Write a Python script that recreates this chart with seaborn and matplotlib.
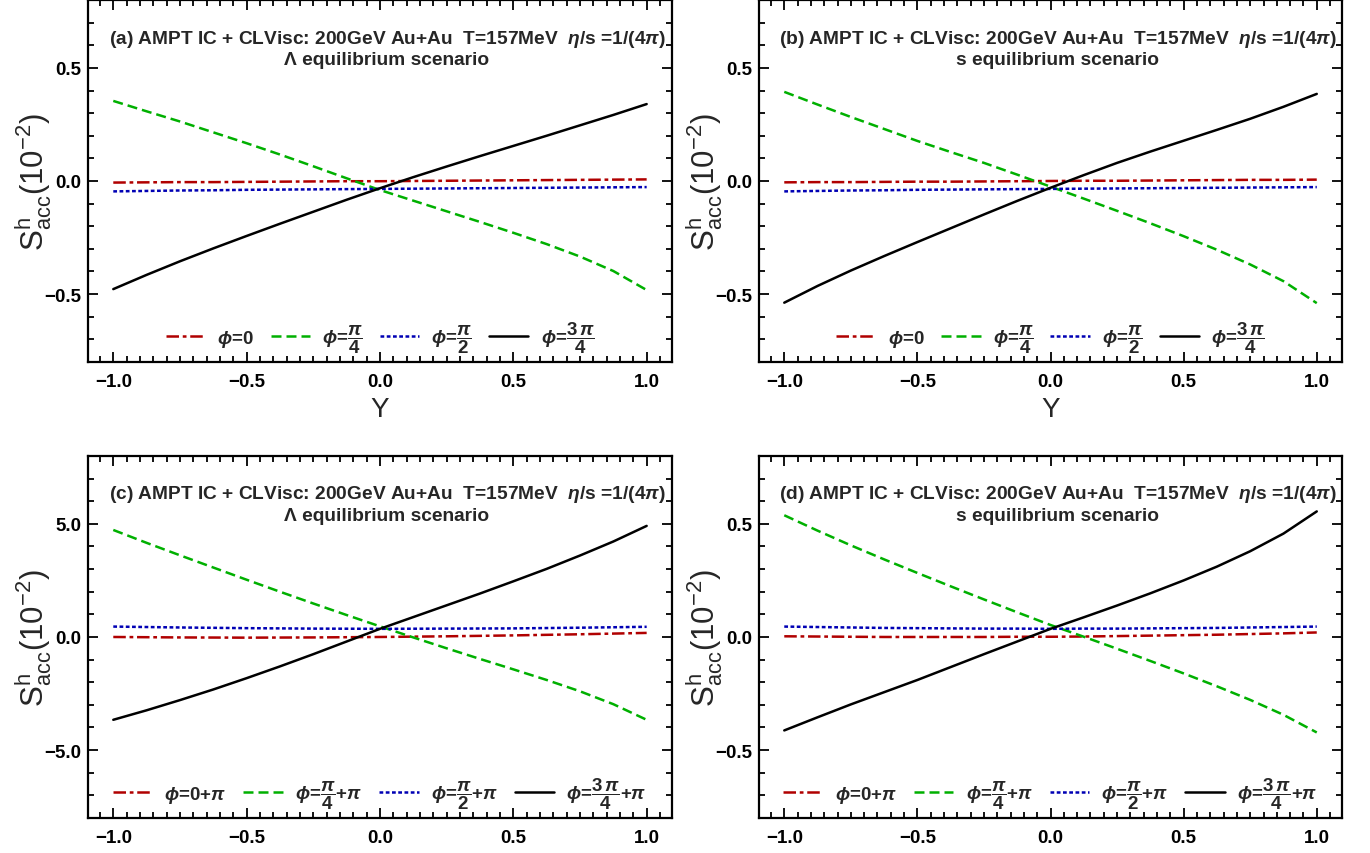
import numpy as np
import pandas as pd
import matplotlib
matplotlib.use("Agg")
import matplotlib.pyplot as plt
from matplotlib.ticker import MultipleLocator, FuncFormatter
import seaborn as sns

# Rapidity grid
rapidity = [-1.0, -0.875, -0.75, -0.625, -0.5, -0.375, -0.25, -0.125, 0.0,
            0.125, 0.25, 0.375, 0.5, 0.625, 0.75, 0.875, 1.0]

# (a) Lambda equilibrium, phi = 0, pi/4, pi/2, 3pi/4
a_phi0 = [-0.007, -0.006, -0.005, -0.005, -0.004, -0.003, -0.002, -0.001, -0.001,
          0.000, 0.001, 0.002, 0.003, 0.004, 0.005, 0.006, 0.007]
a_phi1 = [0.354, 0.308, 0.263, 0.215, 0.167, 0.117, 0.065, 0.012, -0.040,
          -0.087, -0.134, -0.181, -0.229, -0.279, -0.334, -0.398, -0.482]
a_phi2 = [-0.046, -0.044, -0.042, -0.041, -0.039, -0.038, -0.037, -0.036, -0.035,
          -0.034, -0.033, -0.032, -0.031, -0.030, -0.029, -0.028, -0.027]
a_phi3 = [-0.478, -0.415, -0.355, -0.298, -0.243, -0.189, -0.136, -0.083, -0.032,
          0.017, 0.064, 0.110, 0.155, 0.200, 0.246, 0.292, 0.340]

# (b) s equilibrium, phi = 0, pi/4, pi/2, 3pi/4
b_phi0 = [-0.006, -0.005, -0.005, -0.004, -0.003, -0.003, -0.002, -0.001, 0.000,
          0.001, 0.001, 0.002, 0.003, 0.004, 0.005, 0.005, 0.006]
b_phi1 = [0.394, 0.338, 0.283, 0.230, 0.177, 0.128, 0.080, 0.028, -0.025,
          -0.078, -0.132, -0.187, -0.244, -0.304, -0.369, -0.443, -0.540]
b_phi2 = [-0.046, -0.044, -0.042, -0.041, -0.039, -0.038, -0.037, -0.036, -0.035,
          -0.034, -0.033, -0.032, -0.031, -0.030, -0.029, -0.028, -0.027]
b_phi3 = [-0.538, -0.464, -0.396, -0.332, -0.270, -0.209, -0.148, -0.088, -0.030,
          0.026, 0.080, 0.130, 0.178, 0.226, 0.275, 0.328, 0.385]

# (c) Lambda equilibrium, phi + pi
c_phi0 = [0.000, -0.010, -0.020, -0.025, -0.030, -0.025, -0.020, -0.010, 0.000,
          0.015, 0.030, 0.050, 0.070, 0.095, 0.120, 0.150, 0.180]
c_phi1 = [4.73, 4.16, 3.61, 3.07, 2.53, 2.00, 1.48, 0.97, 0.47,
          -0.02, -0.50, -0.97, -1.43, -1.90, -2.40, -2.97, -3.66]
c_phi2 = [0.460, 0.440, 0.420, 0.405, 0.390, 0.380, 0.370, 0.365, 0.360,
          0.365, 0.370, 0.375, 0.380, 0.395, 0.410, 0.430, 0.450]
c_phi3 = [-3.66, -3.24, -2.79, -2.32, -1.82, -1.30, -0.76, -0.20, 0.36,
          0.88, 1.40, 1.92, 2.46, 3.01, 3.60, 4.22, 4.91]

# (d) s equilibrium, phi + pi
d_phi0 = [0.003, 0.002, 0.001, 0.000, 0.000, 0.000, 0.000, 0.001, 0.001,
          0.002, 0.004, 0.006, 0.008, 0.010, 0.013, 0.016, 0.020]
d_phi1 = [0.538, 0.470, 0.405, 0.343, 0.283, 0.224, 0.166, 0.109, 0.053,
          0.001, -0.052, -0.106, -0.161, -0.218, -0.278, -0.344, -0.422]
d_phi2 = [0.046, 0.044, 0.042, 0.040, 0.039, 0.038, 0.037, 0.037, 0.036,
          0.037, 0.037, 0.038, 0.039, 0.040, 0.042, 0.044, 0.046]
d_phi3 = [-0.413, -0.355, -0.298, -0.244, -0.190, -0.133, -0.076, -0.020, 0.036,
          0.087, 0.139, 0.193, 0.250, 0.311, 0.379, 0.457, 0.555]

labels_top = [r"$\phi$=0", r"$\phi$=$\dfrac{\pi}{4}$", r"$\phi$=$\dfrac{\pi}{2}$",
              r"$\phi$=$\dfrac{3\,\pi}{4}$"]
labels_bot = [r"$\phi$=0+$\pi$", r"$\phi$=$\dfrac{\pi}{4}$+$\pi$",
              r"$\phi$=$\dfrac{\pi}{2}$+$\pi$", r"$\phi$=$\dfrac{3\,\pi}{4}$+$\pi$"]

title_line = r"AMPT IC + CLVisc: 200GeV Au+Au  T=157MeV  $\eta$/s =1/(4$\pi$)"

sns.set_style("ticks")
plt.rcParams["font.family"] = ["Liberation Sans", "DejaVu Sans"]
plt.rcParams["mathtext.fontset"] = "custom"
plt.rcParams["mathtext.rm"] = "Liberation Sans:bold"
plt.rcParams["mathtext.it"] = "Liberation Sans:italic:bold"
plt.rcParams["mathtext.bf"] = "Liberation Sans:bold"
plt.rcParams["mathtext.sf"] = "Liberation Sans"
plt.rcParams["axes.unicode_minus"] = True

colors = ["#b00000", "#00b000", "#0000b4", "#000000"]
styles = [(0, (5, 1.5, 1.5, 1.5)), (0, (4, 2)), (0, (1.5, 1)), "-"]

fig = plt.figure(figsize=(13.7, 8.54), dpi=100)

panels = [
    ("(a)", "\u039b equilibrium scenario", [a_phi0, a_phi1, a_phi2, a_phi3], labels_top,
     [0.0642, 0.575, 0.4263, 0.4238], 0.8, 0.5, 0.1, True),
    ("(b)", "s equilibrium scenario", [b_phi0, b_phi1, b_phi2, b_phi3], labels_top,
     [0.5540, 0.575, 0.4256, 0.4238], 0.8, 0.5, 0.1, True),
    ("(c)", "\u039b equilibrium scenario", [c_phi0, c_phi1, c_phi2, c_phi3], labels_bot,
     [0.0642, 0.041, 0.4263, 0.4239], 8.0, 5.0, 1.0, False),
    ("(d)", "s equilibrium scenario", [d_phi0, d_phi1, d_phi2, d_phi3], labels_bot,
     [0.5540, 0.041, 0.4256, 0.4239], 0.8, 0.5, 0.1, False),
]

fmt = FuncFormatter(lambda v, p: f"{v:.1f}".replace("-", "\u2212"))

for tag, scen, series, labs, rect, ylim, ymaj, ymin, xlab in panels:
    ax = fig.add_axes(rect)
    for vals, lab, col, ls in zip(series, labs, colors, styles):
        df = pd.DataFrame({"Y": rapidity, "S": vals})
        sns.lineplot(data=df, x="Y", y="S", ax=ax, color=col, linestyle=ls,
                     linewidth=1.8, label=lab)
    ax.set_xlim(-1.095, 1.095)
    ax.set_ylim(-ylim, ylim)
    ax.xaxis.set_major_locator(MultipleLocator(0.5))
    ax.xaxis.set_minor_locator(MultipleLocator(0.05))
    ax.yaxis.set_major_locator(MultipleLocator(ymaj))
    ax.yaxis.set_minor_locator(MultipleLocator(ymin))
    ax.xaxis.set_major_formatter(fmt)
    ax.yaxis.set_major_formatter(fmt)
    ax.tick_params(which="both", direction="in", top=True, right=True,
                   width=1.3, colors="black")
    ax.tick_params(which="major", length=7, labelsize=13.5)
    ax.tick_params(axis="x", which="major", pad=8)
    ax.tick_params(axis="y", which="major", pad=5)
    ax.tick_params(which="minor", length=4.5)
    for lbl in ax.get_xticklabels() + ax.get_yticklabels():
        lbl.set_fontweight("bold")
    for sp in ax.spines.values():
        sp.set_linewidth(1.6)
        sp.set_color("black")
    ax.set_ylabel(r"S$^{\mathsf{h}}_{\mathsf{acc}}$(10$^{\mathsf{-2}}$)", fontsize=22.5)
    ax.yaxis.set_label_coords(-0.058, 0.5)
    if xlab:
        ax.set_xlabel("Y", fontsize=20, labelpad=4)
    else:
        ax.set_xlabel("")
    ax.text(0.512, 0.895, f"{tag} " + title_line, transform=ax.transAxes,
            ha="center", va="center", fontsize=13.8, fontweight="bold")
    ax.text(0.512, 0.835, scen, transform=ax.transAxes, ha="center", va="center",
            fontsize=13.8, fontweight="bold")
    ax.legend(loc="lower center", bbox_to_anchor=(0.5, -0.027), ncol=4,
              frameon=False, handlelength=2.1, columnspacing=0.9,
              handletextpad=0.65, prop={"weight": "bold", "size": 13.5})

fig.savefig("out.png", dpi=100)
